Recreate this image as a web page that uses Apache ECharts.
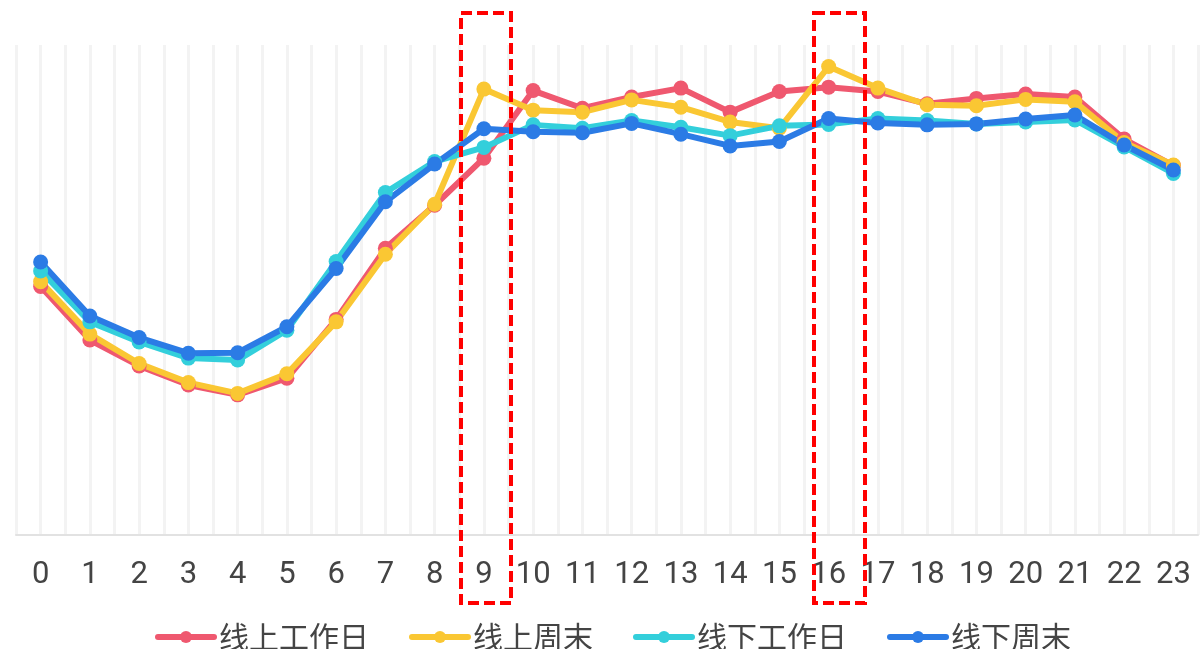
<!DOCTYPE html>
<html>
<head>
<meta charset="utf-8">
<script src="https://cdn.jsdelivr.net/npm/echarts@6/dist/echarts.min.js"></script>
<style>
html, body { margin: 0; padding: 0; background: #fff; }
#container { width: 1201px; height: 649px; }
</style>
</head>
<body>
<div id="container"></div>
<script>
var hours = [0, 1, 2, 3, 4, 5, 6, 7, 8, 9, 10, 11, 12, 13, 14, 15, 16, 17, 18, 19, 20, 21, 22, 23];
var seriesNames = ['线上工作日', '线上周末', '线下工作日', '线下周末'];
var onlineWorkday = [50.7, 39.8, 34.5, 30.6, 28.6, 32.0, 44.0, 58.5, 67.3, 76.9, 90.7, 87.1, 89.4, 91.2, 86.3, 90.5, 91.4, 90.5, 88.0, 89.1, 90.0, 89.4, 80.8, 75.4];
var onlineWeekend = [51.7, 41.0, 35.0, 31.1, 28.9, 32.9, 43.5, 57.3, 67.5, 91.0, 86.7, 86.3, 88.8, 87.3, 84.3, 83.0, 95.6, 91.2, 87.8, 87.6, 88.9, 88.4, 80.1, 75.5];
var offlineWorkday = [53.9, 43.5, 39.4, 36.1, 35.7, 41.8, 55.8, 69.9, 76.2, 79.1, 83.7, 83.0, 84.6, 83.2, 81.5, 83.5, 83.8, 85.0, 84.6, 83.9, 84.3, 84.7, 79.2, 73.8];
var offlineWeekend = [55.7, 44.7, 40.3, 37.1, 37.2, 42.5, 54.4, 68.0, 75.7, 82.9, 82.3, 82.1, 84.0, 81.8, 79.4, 80.3, 85.0, 84.1, 83.7, 83.9, 84.9, 85.7, 79.6, 74.5];
var colors = ['#ef586f', '#fac733', '#33cfdb', '#2b7be5'];

var dom = document.getElementById("container");
var myChart = echarts.init(dom);

function pairs(values) {
    return hours.map(function (h, i) { return [h, values[i]]; });
}

function lineSeries(name, values) {
    return {
        name: name,
        type: 'line',
        data: pairs(values),
        symbol: 'circle',
        symbolSize: 15,
        lineStyle: { width: 6 },
        emphasis: { disabled: true }
    };
}

var option = {
    animation: false,
    color: colors,
    grid: { left: 16, right: -3, top: 45, bottom: 114 },
    legend: {
        data: seriesNames,
        left: 150,
        top: 617,
        itemGap: 40,
        itemWidth: 56,
        itemHeight: 15,
        lineStyle: { width: 6, cap: 'round' },
        textStyle: { fontSize: 30, color: '#444', fontFamily: 'Noto Sans CJK SC' }
    },
    xAxis: {
        type: 'value',
        min: -0.5,
        max: 23.5,
        interval: 0.5,
        axisTick: { show: false },
        axisLine: { lineStyle: { color: '#e2e2e2', width: 2 } },
        axisLabel: {
            margin: 25,
            fontSize: 31,
            color: '#444',
            fontFamily: 'Roboto',
            formatter: function (v) {
                return Number.isInteger(v) ? String(hours[v]) : '';
            }
        },
        splitLine: { show: true, lineStyle: { color: '#f3f3f3', width: 3 } }
    },
    yAxis: {
        type: 'value',
        min: 0,
        max: 100,
        show: false,
        splitLine: { show: false }
    },
    series: [
        lineSeries(seriesNames[0], onlineWorkday),
        lineSeries(seriesNames[1], onlineWeekend),
        lineSeries(seriesNames[2], offlineWorkday),
        lineSeries(seriesNames[3], offlineWeekend)
    ],
    graphic: [
        {
            type: 'rect', z: 100,
            shape: { x: 461, y: 13, width: 50, height: 590 },
            style: { fill: 'none', stroke: '#ff0000', lineWidth: 4, lineDash: [11, 5] }
        },
        {
            type: 'rect', z: 100,
            shape: { x: 814, y: 13, width: 51, height: 590 },
            style: { fill: 'none', stroke: '#ff0000', lineWidth: 4, lineDash: [11, 5] }
        }
    ]
};

if (option && typeof option === "object") {
    myChart.setOption(option, true);
}
</script>
</body>
</html>
